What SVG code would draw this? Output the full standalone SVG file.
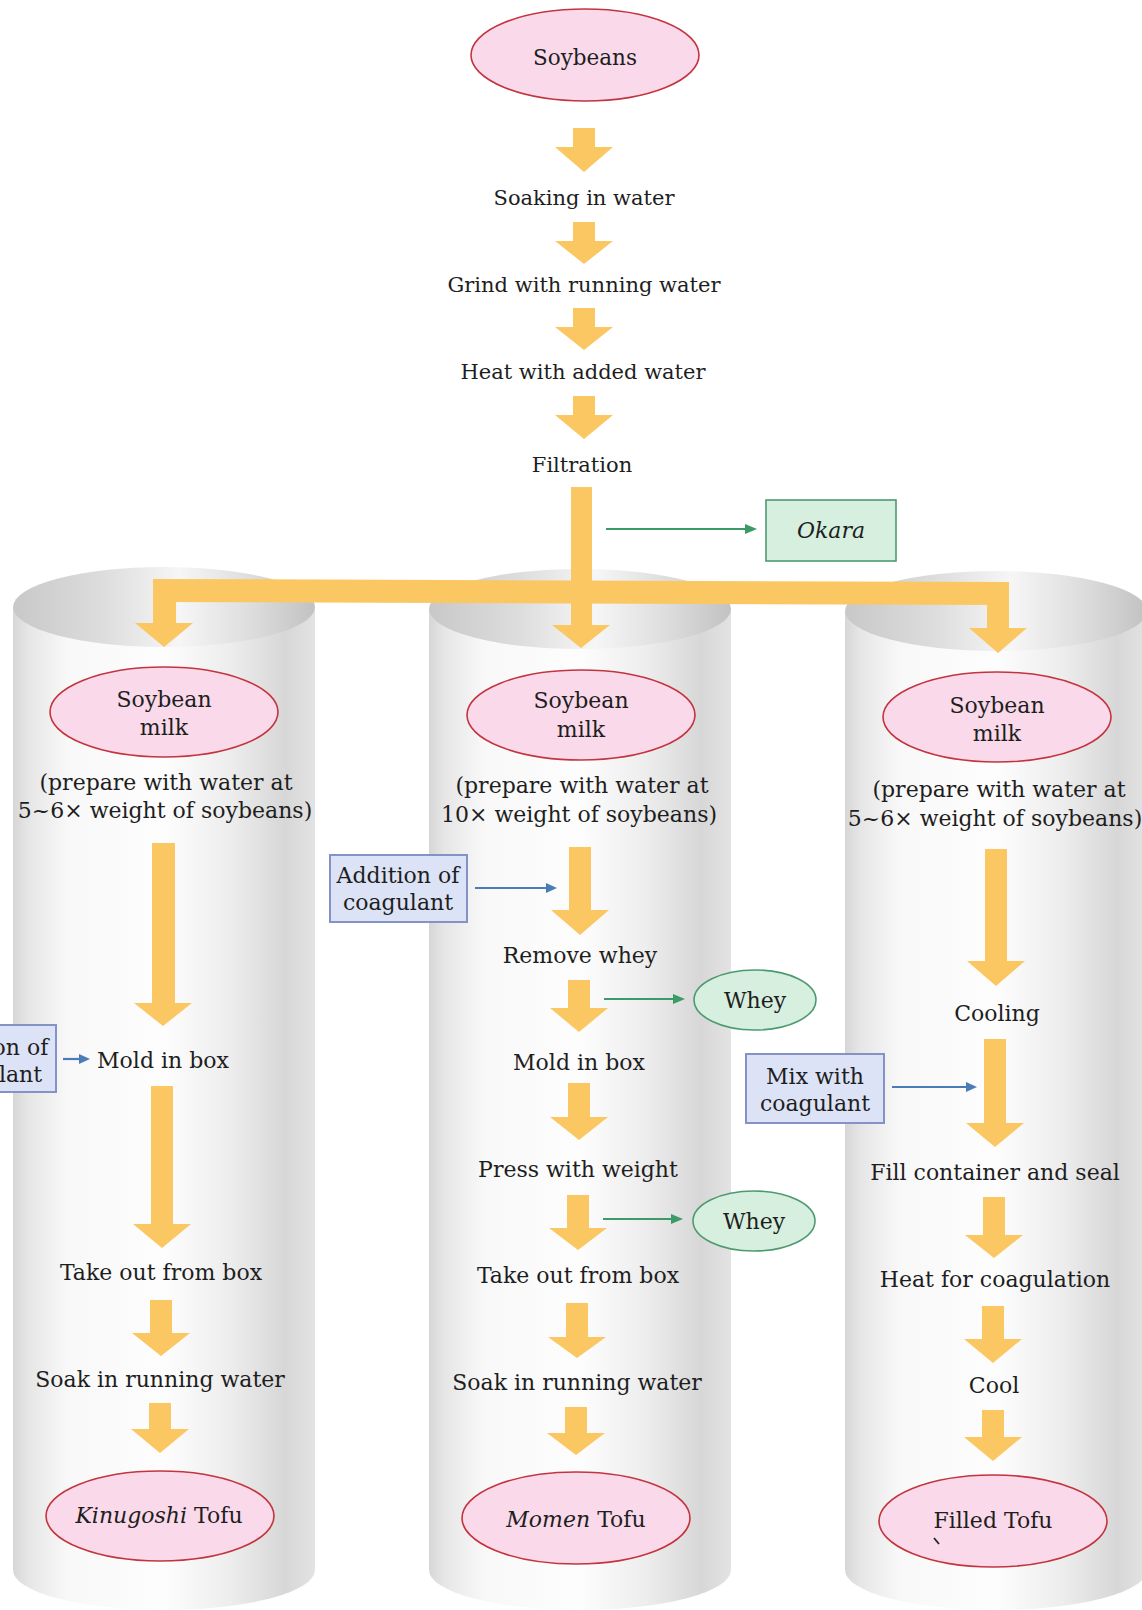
<svg xmlns="http://www.w3.org/2000/svg" width="1142" height="1610" viewBox="0 0 1142 1610">
<style>
.t{font-family:"DejaVu Serif","Liberation Serif",serif;font-size:22px;fill:#1e1e1e;text-anchor:middle}
.tt{font-size:21px}
.it{font-style:italic}
.fa{fill:#fbc762}
.pk{fill:#fadaea;stroke:#c3343e;stroke-width:1.6}
.gr{fill:#d6efdf;stroke:#4e9a70;stroke-width:1.6}
.bl{fill:#dde3f7;stroke:#8393c6;stroke-width:2}
.gl{stroke:#3a9a68;stroke-width:2.2;fill:none}
.bll{stroke:#4a7db8;stroke-width:2.2;fill:none}
</style>
<defs>
<linearGradient id="body" x1="0" y1="0" x2="1" y2="0">
<stop offset="0" stop-color="#d6d6d6"/>
<stop offset="0.05" stop-color="#e6e6e6"/>
<stop offset="0.18" stop-color="#f8f8f8"/>
<stop offset="0.5" stop-color="#fdfdfd"/>
<stop offset="0.72" stop-color="#ededed"/>
<stop offset="0.9" stop-color="#d7d7d7"/>
<stop offset="1" stop-color="#e3e3e3"/>
</linearGradient>
<linearGradient id="inner" x1="0" y1="0" x2="1" y2="0">
<stop offset="0" stop-color="#c8c8c8"/>
<stop offset="0.3" stop-color="#dddddd"/>
<stop offset="0.55" stop-color="#f6f6f6"/>
<stop offset="0.78" stop-color="#dedede"/>
<stop offset="1" stop-color="#c2c2c2"/>
</linearGradient>
<marker id="mg" markerUnits="userSpaceOnUse" markerWidth="12" markerHeight="10" refX="7" refY="5" orient="auto">
<path d="M0,0 L12,5 L0,10 Z" fill="#3a9a68"/>
</marker>
<marker id="mb" markerUnits="userSpaceOnUse" markerWidth="11" markerHeight="10" refX="6" refY="5" orient="auto">
<path d="M0,0 L11,5 L0,10 Z" fill="#4a7db8"/>
</marker>
</defs>
<rect width="1142" height="1610" fill="#ffffff"/>

<g id="cylinders">
<path d="M13,607 V1570 A151,40 0 0 0 315,1570 V607 Z" fill="url(#body)"/>
<ellipse cx="164" cy="607" rx="151" ry="40" fill="url(#inner)"/>
<path d="M429,609 V1570 A151,40 0 0 0 731,1570 V609 Z" fill="url(#body)"/>
<ellipse cx="580" cy="609" rx="151" ry="40" fill="url(#inner)"/>
<path d="M845,611 V1570 A151,40 0 0 0 1147,1570 V611 Z" fill="url(#body)"/>
<ellipse cx="996" cy="611" rx="151" ry="40" fill="url(#inner)"/>
</g>

<g id="connectors">
<path class="fa" d="M573,128H595V147H613L584,172L555,147H573Z"/>
<path class="fa" d="M573,222H595V241H613L584,264L555,241H573Z"/>
<path class="fa" d="M573,308H595V327H613L584,350L555,327H573Z"/>
<path class="fa" d="M573,396H595V415H613L584,439L555,415H573Z"/>
<path class="fa" d="M571,487H592V625H610L581,648L552,625H571Z"/>
<path class="fa" d="M153,579L1009,582V605L153,602Z"/>
<path class="fa" d="M153,590H176V623H193L164,647L135,623H153Z"/>
<path class="fa" d="M987,590H1009V628H1027L998,653L969,628H987Z"/>
<path class="fa" d="M152,843H175V1003H192L163,1026L134,1003H152Z"/>
<path class="fa" d="M151,1086H173V1224H191L162,1248L133,1224H151Z"/>
<path class="fa" d="M150,1300H172V1333H190L161,1356L132,1333H150Z"/>
<path class="fa" d="M149,1403H171V1429H189L160,1453L131,1429H149Z"/>
<path class="fa" d="M569,847H591V910H609L580,935L551,910H569Z"/>
<path class="fa" d="M568,980H590V1008H608L579,1032L550,1008H568Z"/>
<path class="fa" d="M568,1083H590V1117H608L579,1140L550,1117H568Z"/>
<path class="fa" d="M567,1195H589V1228H607L578,1250L549,1228H567Z"/>
<path class="fa" d="M566,1303H588V1337H606L577,1358L548,1337H566Z"/>
<path class="fa" d="M565,1407H587V1433H605L576,1455L547,1433H565Z"/>
<path class="fa" d="M985,849H1007V961H1025L996,986L967,961H985Z"/>
<path class="fa" d="M984,1039H1006V1123H1024L995,1147L966,1123H984Z"/>
<path class="fa" d="M983,1197H1005V1235H1023L994,1258L965,1235H983Z"/>
<path class="fa" d="M982,1306H1004V1339H1022L993,1363L964,1339H982Z"/>
<path class="fa" d="M982,1410H1004V1437H1022L993,1461L964,1437H982Z"/>
<line class="gl" x1="606" y1="529" x2="752" y2="529" marker-end="url(#mg)"/>
<line class="gl" x1="604" y1="999" x2="680" y2="999" marker-end="url(#mg)"/>
<line class="gl" x1="603" y1="1219" x2="678" y2="1219" marker-end="url(#mg)"/>
<line class="bll" x1="63" y1="1059" x2="85" y2="1059" marker-end="url(#mb)"/>
<line class="bll" x1="475" y1="888" x2="552" y2="888" marker-end="url(#mb)"/>
<line class="bll" x1="892" y1="1087" x2="972" y2="1087" marker-end="url(#mb)"/>
</g>

<g id="soybeans"><ellipse class="pk" cx="585" cy="55" rx="114" ry="46"/><text class="t" x="585" y="65" style="font-size:21.5px">Soybeans</text></g>
<g id="soaking"><text class="t tt" x="584" y="205">Soaking in water</text></g>
<g id="grind"><text class="t tt" x="584" y="292">Grind with running water</text></g>
<g id="heat"><text class="t tt" x="583" y="379">Heat with added water</text></g>
<g id="filtration"><text class="t tt" x="582" y="472">Filtration</text></g>
<g id="okara"><rect class="gr" x="766" y="500" width="130" height="61"/><text class="t it" x="831" y="538">Okara</text></g>

<g id="milk-left"><ellipse class="pk" cx="164" cy="712" rx="114" ry="45"/><text class="t" x="164" y="707">Soybean</text><text class="t" x="164" y="735">milk</text></g>
<g id="prep-left"><text class="t" x="166" y="790">(prepare with water at</text><text class="t" x="165" y="818">5~6× weight of soybeans)</text></g>
<g id="coag-left"><rect class="bl" x="-82" y="1025" width="138" height="67"/><text class="t" x="-13" y="1055">Addition of</text><text class="t" x="-13" y="1082">coagulant</text></g>
<g id="mold-left"><text class="t" x="163" y="1068">Mold in box</text></g>
<g id="takeout-left"><text class="t" x="161" y="1280">Take out from box</text></g>
<g id="soak-left"><text class="t" x="160" y="1387">Soak in running water</text></g>
<g id="kinugoshi"><ellipse class="pk" cx="160" cy="1516" rx="114" ry="45"/><text class="t" x="159" y="1523"><tspan class="it">Kinugoshi</tspan> Tofu</text></g>

<g id="milk-mid"><ellipse class="pk" cx="581" cy="715" rx="114" ry="45"/><text class="t" x="581" y="708">Soybean</text><text class="t" x="581" y="737">milk</text></g>
<g id="prep-mid"><text class="t" x="582" y="793">(prepare with water at</text><text class="t" x="579" y="822">10× weight of soybeans)</text></g>
<g id="coag-mid"><rect class="bl" x="330" y="855" width="137" height="67"/><text class="t" x="398" y="883">Addition of</text><text class="t" x="398" y="910">coagulant</text></g>
<g id="remove-whey"><text class="t" x="580" y="963">Remove whey</text></g>
<g id="whey1"><ellipse class="gr" cx="755" cy="1000" rx="61" ry="30"/><text class="t" x="755" y="1008">Whey</text></g>
<g id="mold-mid"><text class="t" x="579" y="1070">Mold in box</text></g>
<g id="press"><text class="t" x="578" y="1177">Press with weight</text></g>
<g id="whey2"><ellipse class="gr" cx="754" cy="1221" rx="61" ry="30"/><text class="t" x="754" y="1229">Whey</text></g>
<g id="takeout-mid"><text class="t" x="578" y="1283">Take out from box</text></g>
<g id="soak-mid"><text class="t" x="577" y="1390">Soak in running water</text></g>
<g id="momen"><ellipse class="pk" cx="576" cy="1518" rx="114" ry="46"/><text class="t" x="576" y="1527"><tspan class="it">Momen</tspan> Tofu</text></g>

<g id="milk-right"><ellipse class="pk" cx="997" cy="717" rx="114" ry="45"/><text class="t" x="997" y="713">Soybean</text><text class="t" x="997" y="741">milk</text></g>
<g id="prep-right"><text class="t" x="999" y="797">(prepare with water at</text><text class="t" x="995" y="826">5~6× weight of soybeans)</text></g>
<g id="cooling"><text class="t" x="997" y="1021">Cooling</text></g>
<g id="mix"><rect class="bl" x="746" y="1054" width="138" height="69"/><text class="t" x="815" y="1084">Mix with</text><text class="t" x="815" y="1111">coagulant</text></g>
<g id="fill"><text class="t" x="995" y="1180">Fill container and seal</text></g>
<g id="heat-coag"><text class="t" x="995" y="1287">Heat for coagulation</text></g>
<g id="cool"><text class="t" x="994" y="1393">Cool</text></g>
<g id="filled"><ellipse class="pk" cx="993" cy="1521" rx="114" ry="46"/><text class="t" x="993" y="1528">Filled Tofu</text><path d="M934,1538 L939,1544" stroke="#222" stroke-width="1.8"/></g>
</svg>
